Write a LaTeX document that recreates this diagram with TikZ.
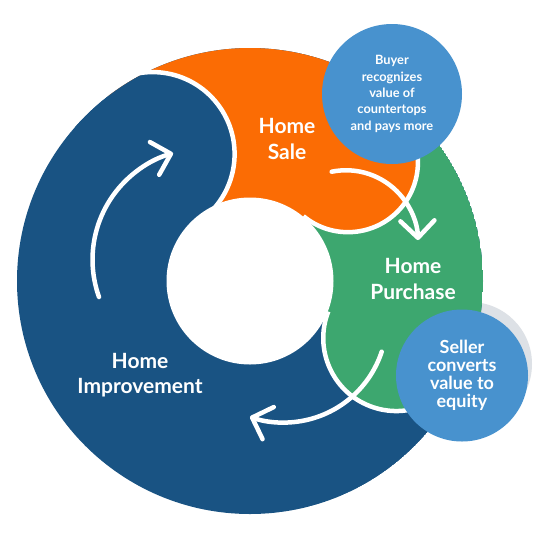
\documentclass[tikz,border=0pt]{standalone}
\usepackage{fontspec}
\setmainfont{Lato}
\usetikzlibrary{arrows.meta,calc}

\definecolor{ringblue}{HTML}{195383}
\definecolor{ringorange}{HTML}{FB6C04}
\definecolor{ringgreen}{HTML}{3DA76F}
\definecolor{bubbleblue}{HTML}{4892CE}
\definecolor{shadowgray}{HTML}{DDE1E6}

\tikzset{
  headrim/.style={draw=white, line width=4.5pt},
  flow/.style={white, line width=4.5pt, line cap=round,
    -{Straight Barb[length=17pt, width=34pt, round]}},
  stage/.style={white, align=center, font=\fontsize{21}{25.5}\selectfont\bfseries},
  bubble/.style={circle, fill=bubbleblue, text=white, align=center, inner sep=0pt}
}

\begin{document}
\begin{tikzpicture}[x=1pt, y=1pt, yscale=-1]
  \useasboundingbox (0,0) rectangle (540,542);
  \fill[white] (0,0) rectangle (540,542);
  \coordinate (hub) at (250,281);
  % Centres of the rounded heads
  \coordinate (greenhead) at ($(hub)+(21.3:157)$);
  \coordinate (orangehead) at ($(hub)+(-50.5:154)$);
  \coordinate (bluehead) at ($(hub)+(-127.5:160)$);

  % Shadow behind the right bubble
  \fill[shadowgray] (470,364) circle[radius=62];

  \begin{scope}
    \clip (hub) circle[radius=233];
    % Blue ring as the base
    \fill[ringblue] (hub) circle[radius=233];
    % Green band and its head
    \fill[ringgreen] (hub) -- ++(-50.5:233) arc[start angle=-50.5, end angle=21.3, radius=233] -- cycle;
    \fill[ringgreen] (greenhead) circle[radius=73];
    % Orange band and its head
    \fill[ringorange] (hub) -- ++(-127.5:233) arc[start angle=-127.5, end angle=-50.5, radius=233] -- cycle;
    \fill[ringorange] (orangehead) circle[radius=70];
    % Head of the blue band over the orange one
    \fill[ringblue] (bluehead) circle[radius=82];
  \end{scope}

  % Hole in the middle
  \fill[white] (hub) circle[radius=83.5];

  % Arrows round the cycle
  \coordinate (imp-start) at (99,297);
  \coordinate (sale-start) at (331.7,171.7);
  \coordinate (buy-start) at (381.7,351.7);
  \draw[flow] (imp-start) arc[start angle=160.3, end angle=254.2, radius=110.7];
  \draw[flow] (sale-start) arc[start angle=258.5, end angle=358.25, radius=72];
  \draw[flow] (buy-start) arc[start angle=18.2, end angle=109.2, radius=103];

  % White edge on the front half of each head
  \coordinate (greenrim) at ($(hub)+(21.3:230)$);
  \coordinate (orangerim) at ($(hub)+(-50.5:224)$);
  \coordinate (bluerim) at ($(hub)+(-127.5:242)$);
  \draw[headrim] (greenrim) arc[start angle=21.3, end angle=111.3, radius=73]
    arc[start angle=111.3, end angle=201.3, radius=73];
  \draw[headrim] (orangerim) arc[start angle=-50.5, end angle=39.5, radius=70]
    arc[start angle=39.5, end angle=129.5, radius=70];
  \draw[headrim] (bluerim) arc[start angle=-127.5, end angle=-37.5, radius=82]
    arc[start angle=-37.5, end angle=52.5, radius=82];

  % Stage labels
  \node[stage] (sale) at (287,139) {Home\\Sale};
  \node[stage] (purchase) at (413,279) {Home\\Purchase};
  \node[stage] (improve) at (140,375) {Home\\Improvement};

  % Bubbles
  \node[bubble, minimum size=140pt, font=\fontsize{12.8}{16.3}\selectfont\bfseries] (buyer)
    at (392,94) {Buyer\\recognizes\\value of\\countertops\\and pays more};
  \node[bubble, minimum size=132pt, font=\fontsize{18}{17.8}\selectfont\bfseries] (seller)
    at (462,375.5) {Seller\\converts\\value to\\equity};
\end{tikzpicture}
\end{document}
